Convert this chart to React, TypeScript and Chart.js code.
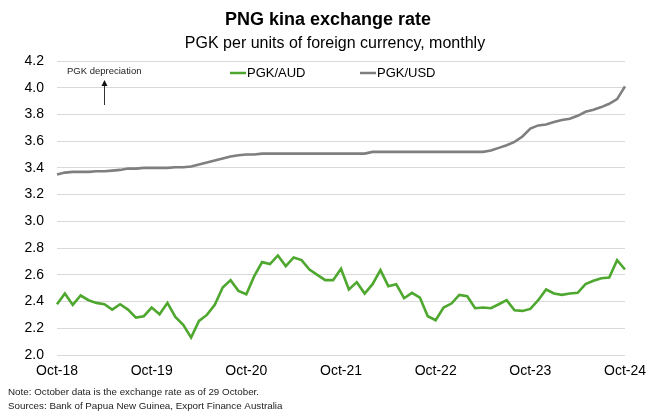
import React, { useEffect, useRef } from "react";
import { Chart, registerables } from "chart.js";

Chart.register(...registerables);

const MONTH_NAMES = ["Jan", "Feb", "Mar", "Apr", "May", "Jun", "Jul", "Aug", "Sep", "Oct", "Nov", "Dec"];
const START_MONTH = 9; // October
const START_YEAR = 2018;
const N_MONTHS = 73;

const categories: string[] = [];
for (let i = 0; i < N_MONTHS; i++) {
  const m = (START_MONTH + i) % 12;
  const y = START_YEAR + Math.floor((START_MONTH + i) / 12);
  categories.push(MONTH_NAMES[m] + "-" + String(y).slice(2));
}

const tickLabels = ["Oct-18", "Oct-19", "Oct-20", "Oct-21", "Oct-22", "Oct-23", "Oct-24"];

const pgkAud = [
  2.38, 2.46, 2.375, 2.445, 2.41, 2.39, 2.38, 2.34, 2.38, 2.34, 2.28, 2.29,
  2.355, 2.305, 2.39, 2.285, 2.225, 2.13, 2.255, 2.3, 2.375, 2.505, 2.56, 2.48,
  2.455, 2.59, 2.695, 2.68, 2.745, 2.665, 2.73, 2.71, 2.64, 2.6, 2.56, 2.56,
  2.645, 2.49, 2.545, 2.46, 2.53, 2.635, 2.515, 2.53, 2.425, 2.465, 2.43, 2.29,
  2.26, 2.355, 2.385, 2.45, 2.44, 2.35, 2.355, 2.35, 2.38, 2.41, 2.335, 2.33,
  2.345, 2.41, 2.49, 2.46, 2.45, 2.46, 2.465, 2.53, 2.555, 2.575, 2.58, 2.71,
  2.64,
];

const pgkUsd = [
  3.35, 3.365, 3.37, 3.37, 3.37, 3.375, 3.375, 3.38, 3.385, 3.395, 3.395, 3.4,
  3.4, 3.4, 3.4, 3.405, 3.405, 3.41, 3.425, 3.44, 3.455, 3.47, 3.485, 3.495,
  3.5, 3.5, 3.507, 3.507, 3.507, 3.507, 3.507, 3.507, 3.507, 3.507, 3.507, 3.507,
  3.507, 3.507, 3.507, 3.507, 3.52, 3.52, 3.52, 3.52, 3.52, 3.52, 3.52, 3.52,
  3.52, 3.52, 3.52, 3.52, 3.52, 3.52, 3.52, 3.53, 3.55, 3.57, 3.595, 3.635,
  3.695, 3.718, 3.725, 3.743, 3.758, 3.768, 3.79, 3.82, 3.835, 3.855, 3.88, 3.915,
  4.01,
];

const TITLE = "PNG kina exchange rate";
const SUBTITLE = "PGK per units of foreign currency, monthly";
const NOTE_LINES = [
  "Note: October data is the exchange rate as of 29 October.",
  "Sources: Bank of Papua New Guinea, Export Finance Australia",
];
const ANNOTATION = "PGK depreciation";

const GREEN = "#4ea72e";
const GRAY = "#7f7f7f";
const FONT = "'Liberation Sans', Arial, sans-serif";

const decorPlugin = {
  id: "decor",
  afterDraw(chart: any) {
    const ctx = chart.ctx as CanvasRenderingContext2D;
    const w = chart.width;
    ctx.save();
    ctx.fillStyle = "#000";
    ctx.textAlign = "center";
    ctx.textBaseline = "middle";
    ctx.font = `bold 18px ${FONT}`;
    ctx.fillText(TITLE, w / 2 + 1, 20);
    ctx.font = `16px ${FONT}`;
    ctx.fillText(SUBTITLE, w / 2 + 8, 44);

    // legend
    const legendItems = [
      { label: "PGK/AUD", color: GREEN, x: 230 },
      { label: "PGK/USD", color: GRAY, x: 360 },
    ];
    ctx.font = `13px ${FONT}`;
    ctx.textAlign = "left";
    for (const it of legendItems) {
      ctx.strokeStyle = it.color;
      ctx.lineWidth = 2.5;
      ctx.beginPath();
      ctx.moveTo(it.x, 73);
      ctx.lineTo(it.x + 16, 73);
      ctx.stroke();
      ctx.fillStyle = "#000";
      ctx.fillText(it.label, it.x + 17, 73);
    }

    // annotation
    ctx.font = `9.5px ${FONT}`;
    ctx.fillStyle = "#222";
    ctx.fillText(ANNOTATION, 67, 71);
    ctx.strokeStyle = "#333";
    ctx.lineWidth = 1;
    ctx.beginPath();
    ctx.moveTo(104.5, 105);
    ctx.lineTo(104.5, 84);
    ctx.stroke();
    ctx.fillStyle = "#111";
    ctx.beginPath();
    ctx.moveTo(104.5, 80);
    ctx.lineTo(101.5, 86);
    ctx.lineTo(107.5, 86);
    ctx.closePath();
    ctx.fill();

    // notes
    ctx.font = `9.8px ${FONT}`;
    ctx.fillStyle = "#222";
    ctx.fillText(NOTE_LINES[0], 8, 392);
    ctx.fillText(NOTE_LINES[1], 8, 406);
    ctx.restore();
  },
};

export default function App() {
  const ref = useRef<HTMLCanvasElement | null>(null);

  useEffect(() => {
    if (!ref.current) return;
    const chart = new Chart(ref.current, {
      type: "line",
      data: {
        labels: categories,
        datasets: [
          {
            label: "PGK/AUD",
            data: pgkAud,
            borderColor: GREEN,
            backgroundColor: GREEN,
            borderWidth: 2.6,
            pointRadius: 0,
            tension: 0,
          },
          {
            label: "PGK/USD",
            data: pgkUsd,
            borderColor: GRAY,
            backgroundColor: GRAY,
            borderWidth: 2.6,
            pointRadius: 0,
            tension: 0,
          },
        ],
      },
      options: {
        responsive: false,
        animation: false,
        devicePixelRatio: 1,
        layout: { padding: { top: 61, right: 27, bottom: 28, left: 0 } },
        plugins: {
          legend: { display: false },
          title: { display: false },
          tooltip: { enabled: false },
        },
        scales: {
          x: {
            type: "category",
            offset: false,
            grid: { display: false, drawTicks: false },
            border: { display: false },
            ticks: {
              autoSkip: false,
              maxRotation: 0,
              minRotation: 0,
              padding: 8,
              color: "#000",
              font: { family: FONT, size: 14 },
              callback: (_v: any, i: number) =>
                tickLabels.includes(categories[i]) ? categories[i] : "",
            },
            afterFit: (s: any) => {
              s.height = 30;
            },
          },
          y: {
            min: 2.0,
            max: 4.2,
            grid: { color: "#d9d9d9", drawTicks: false, lineWidth: 1 },
            border: { display: false },
            ticks: {
              stepSize: 0.2,
              padding: 13,
              color: "#000",
              font: { family: FONT, size: 14 },
              callback: (v: any) => Number(v).toFixed(1),
            },
            afterFit: (s: any) => {
              s.width = 57;
            },
          },
        },
      },
      plugins: [decorPlugin],
    });
    return () => chart.destroy();
  }, []);

  return (
    <div style={{ position: "absolute", left: 0, top: 0, width: 654, height: 413, background: "#fff" }}>
      <canvas ref={ref} width={654} height={413} style={{ display: "block" }} />
    </div>
  );
}
